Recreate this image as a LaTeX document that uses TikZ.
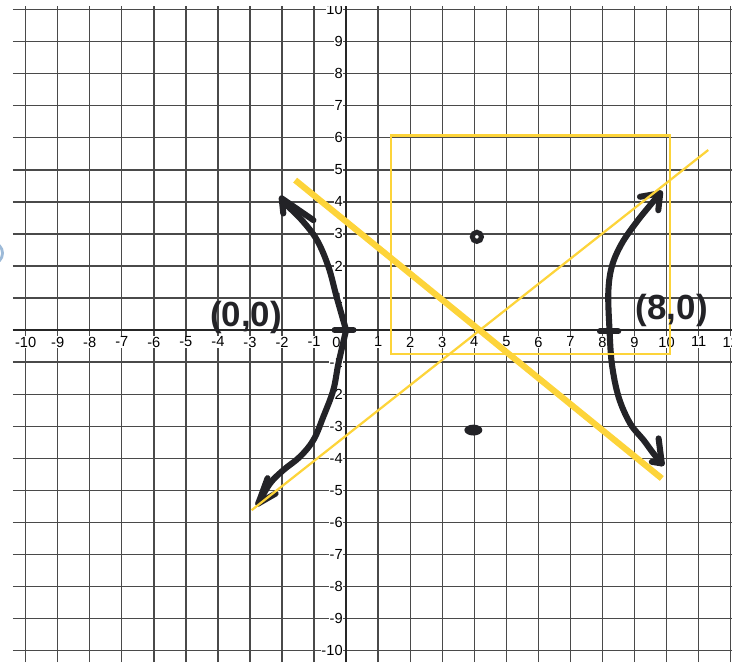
\documentclass[tikz,border=0pt]{standalone}
\usepackage{fontspec}
\setmainfont{Liberation Sans}
\definecolor{hlyellow}{HTML}{FDD43A}
\definecolor{inkdark}{HTML}{232327}
\definecolor{gridgray}{HTML}{4A4A4A}
\definecolor{edgeblue}{HTML}{9DBAD8}

\begin{document}
\begin{tikzpicture}[
  every node/.style={font=\fontsize{13}{13}\selectfont},
  gridline/.style={draw=gridgray, line width=1.2pt},
  axisline/.style={draw=black!85, line width=2pt},
  ticklbl/.style={fill=white, inner sep=0.6pt},
  asym/.style={draw=hlyellow, line width=2pt},
  asymbold/.style={draw=hlyellow, line width=5.5pt},
  ink/.style={draw=inkdark, line width=5.4pt, line cap=round, line join=round},
  dotring/.style={circle, draw=inkdark, fill=white, line width=4.4pt,
                  inner sep=0pt, minimum size=0.285cm},
  handtext/.style={text=inkdark, inner sep=0pt,
                   font=\fontsize{31}{31}\selectfont\bfseries}
]

\useasboundingbox (-10.80,-10.39) rectangle (12.29,10.30);

%% Graph paper
\begin{scope}
  \clip (-10.4,-10.36) rectangle (12.04,10.1);
  \foreach \x in {-10,...,12}
    \draw[gridline] (\x,-10.36) -- (\x,10.1);
  \foreach \y in {-10,...,10}
    \draw[gridline] (-10.4,\y) -- (12.04,\y);
  \draw[axisline] (-10.4,0) -- (12.04,0);
  \draw[axisline] (0,-10.36) -- (0,10.1);

  %% Tick labels
  \foreach \x [count=\i] in {-10,...,-1,1,2,...,12}
    \node[ticklbl] (xlbl\i) at (\x,-0.37) {\x};
  \foreach \y [count=\i] in {-10,...,-1,1,2,...,10}
    \node[ticklbl, anchor=east] (ylbl\i) at (-0.08,\y) {\y};
  \node[ticklbl] (olbl) at (-0.3,-0.37) {0};
\end{scope}

%% Screen edge
\draw[edgeblue, line width=2.5pt] (-11.05,2.40) circle (0.33);

%% Vertices
\coordinate (vleft)  at (0,0);
\coordinate (vright) at (8.22,0);

%% Left branch
\draw[ink] (-0.36,0) -- (0.23,0);
\draw[ink] plot[smooth, tension=0.6] coordinates {(vleft) (-0.29,1.01)
  (-0.55,1.97) (-0.91,2.81) (-1.38,3.43) (-1.85,3.90) (-2.01,4.11)};
\draw[ink] (-1.96,3.64) -- (-2.01,4.11) -- (-1.02,3.43);
\draw[ink] plot[smooth, tension=0.6] coordinates {(vleft) (-0.24,-1.04)
  (-0.40,-1.87) (-0.71,-2.70) (-1.02,-3.43) (-1.44,-3.95) (-1.96,-4.37)
  (-2.37,-4.78) (-2.74,-5.41)};
\draw[ink] (-2.45,-4.62) -- (-2.74,-5.41) -- (-2.20,-5.10);

%% Right branch
\draw[ink] (7.92,-0.04) -- (8.49,-0.04);
\draw[ink] plot[smooth, tension=0.6] coordinates {(vright) (8.18,1.15)
  (8.29,1.98) (8.60,2.70) (9.07,3.38) (9.49,3.90) (9.80,4.27)};
\draw[ink] (9.17,4.16) -- (9.80,4.27) -- (9.74,3.74);
\draw[ink] plot[smooth, tension=0.6] coordinates {(vright) (8.29,-1.04)
  (8.50,-2.08) (8.86,-2.91) (9.28,-3.43) (9.59,-3.85) (9.85,-4.16)};
\draw[ink] (9.75,-3.38) -- (9.85,-4.16) -- (9.54,-4.11);

%% Box and asymptotes
\draw[asym] (1.39,-0.75) rectangle (10.11,6.07);
\draw[asym] (-2.95,-5.62) -- (11.3,5.62);
\draw[asymbold] (-1.59,4.68) -- (9.85,-4.63);

%% Points above and below the centre
\node[dotring] (ptup) at (4.08,2.91) {};
\fill[inkdark] (3.97,-3.12) ellipse [x radius=0.28, y radius=0.17];

%% Handwritten vertex labels
\node[handtext] (lblleft)  at (-3.12,0.40) {(0,0)};
\node[handtext] (lblright) at (10.16,0.60) {(8,0)};

\end{tikzpicture}
\end{document}
